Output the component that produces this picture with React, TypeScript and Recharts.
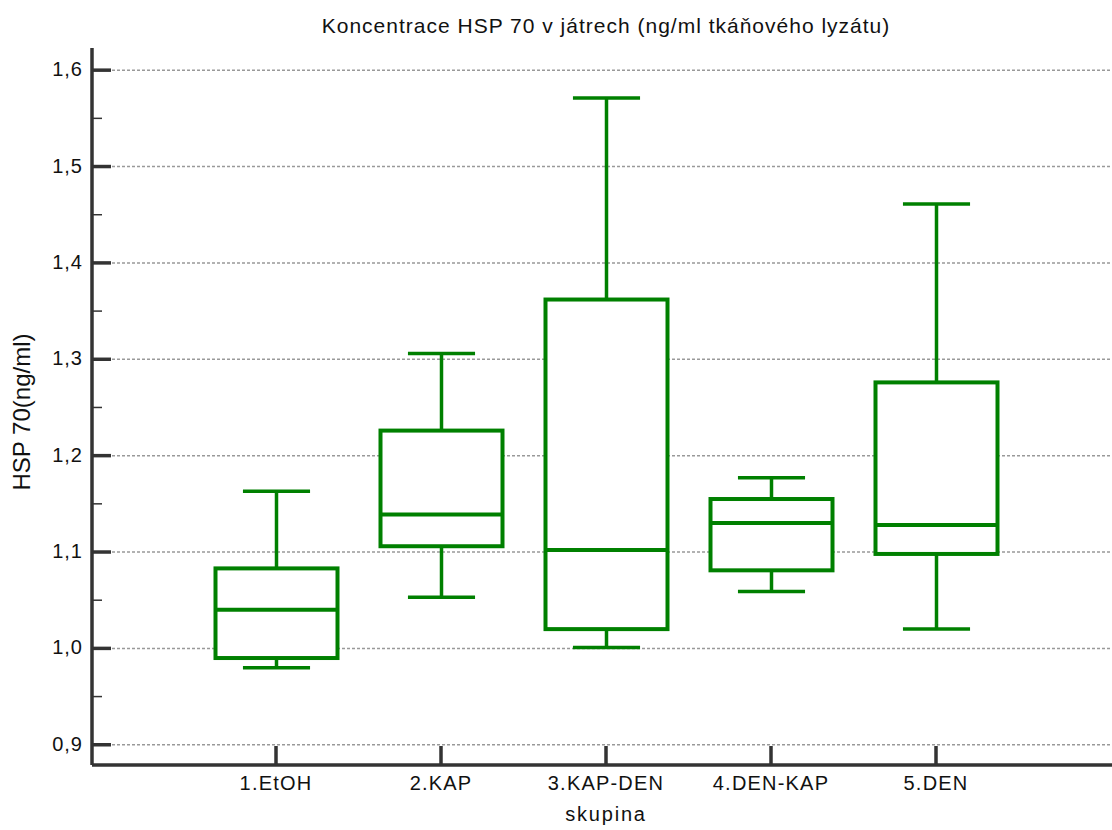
import React from "react"
import { ComposedChart, Bar, XAxis, YAxis, CartesianGrid } from "recharts"

const groups = ["1.EtOH", "2.KAP", "3.KAP-DEN", "4.DEN-KAP", "5.DEN"]
const whiskerLow = [0.98, 1.053, 1.001, 1.059, 1.02]
const q1 = [0.99, 1.106, 1.02, 1.081, 1.098]
const median = [1.04, 1.139, 1.102, 1.13, 1.128]
const q3 = [1.083, 1.226, 1.362, 1.155, 1.276]
const whiskerHigh = [1.163, 1.306, 1.571, 1.177, 1.461]

const majorTicks = [0.9, 1.0, 1.1, 1.2, 1.3, 1.4, 1.5, 1.6]
const minorTicks = [0.95, 1.05, 1.15, 1.25, 1.35, 1.45, 1.55]

const data = groups.map((group, i) => ({
  group,
  range: [whiskerLow[i], whiskerHigh[i]],
  q1: q1[i],
  median: median[i],
  q3: q3[i],
}))

const GREEN = "#008000"
const AXIS = "#333"
const FONT = "'Liberation Sans', Arial, sans-serif"

function BoxShape(props: any) {
  const { x, y, width, height, payload } = props
  const top = Math.min(y, y + height)
  const bottom = Math.max(y, y + height)
  const [lo, hi] = payload.range
  const py = (v: number) => top + ((hi - v) / (hi - lo)) * (bottom - top)
  const cx = x + width / 2
  const cap = width * 0.55
  const yQ1 = py(payload.q1)
  const yQ3 = py(payload.q3)
  const yMed = py(payload.median)
  return (
    <g>
      <line x1={cx} x2={cx} y1={top} y2={yQ3} stroke={GREEN} strokeWidth={3.5} />
      <line x1={cx} x2={cx} y1={yQ1} y2={bottom} stroke={GREEN} strokeWidth={3.5} />
      <line x1={cx - cap / 2} x2={cx + cap / 2} y1={top} y2={top} stroke={GREEN} strokeWidth={3.5} />
      <line x1={cx - cap / 2} x2={cx + cap / 2} y1={bottom} y2={bottom} stroke={GREEN} strokeWidth={3.5} />
      <rect x={x} y={yQ3} width={width} height={yQ1 - yQ3} fill="#fff" stroke={GREEN} strokeWidth={4} />
      <line x1={x} x2={x + width} y1={yMed} y2={yMed} stroke={GREEN} strokeWidth={4} />
    </g>
  )
}

// grid only on the major ticks (they come first in the ticks list)
function GridLine(props: any) {
  const { x1, x2, y1, y2, index } = props
  if (index >= majorTicks.length) return <g key={props.key} />
  return <line key={props.key} x1={x1} x2={x2} y1={y1} y2={y2} stroke="#999" strokeWidth={1.5} strokeDasharray="3 2" />
}

function YTick(props: any) {
  const { x, y, payload } = props
  const major = majorTicks.includes(payload.value)
  return (
    <g>
      <line x1={x} x2={x + (major ? 19 : 10)} y1={y} y2={y} stroke={AXIS} strokeWidth={major ? 3.5 : 1.5} />
      {major && (
        <text x={x - 9} y={y + 6} textAnchor="end" fontSize={20} letterSpacing={1} fill="#111" fontFamily={FONT}>
          {payload.value.toFixed(1).replace(".", ",")}
        </text>
      )}
    </g>
  )
}

function XTick(props: any) {
  const { x, y, payload } = props
  return (
    <g>
      <line x1={x} x2={x} y1={y} y2={y - 19} stroke={AXIS} strokeWidth={3.5} />
      <text x={x} y={y + 25} textAnchor="middle" fontSize={20} letterSpacing={1.2} fill="#111" fontFamily={FONT}>
        {payload.value}
      </text>
    </g>
  )
}

export default function App() {
  return (
    <div style={{ position: "relative", width: 1112, height: 830, fontFamily: FONT }}>
      <style>{"body{margin:0}"}</style>
      <div
        style={{
          position: "absolute",
          left: 0,
          width: 1212,
          top: 14,
          textAlign: "center",
          fontSize: 21,
          letterSpacing: 1,
          color: "#111",
        }}
      >
        Koncentrace HSP 70 v játrech (ng/ml tkáňového lyzátu)
      </div>
      <div
        style={{
          position: "absolute",
          left: 0,
          width: 1212,
          top: 803,
          textAlign: "center",
          fontSize: 20,
          letterSpacing: 1.8,
          color: "#111",
        }}
      >
        skupina
      </div>
      <div
        style={{
          position: "absolute",
          left: 22,
          top: 412,
          transform: "translate(-50%, -50%) rotate(-90deg)",
          fontSize: 24,
          whiteSpace: "nowrap",
          color: "#111",
        }}
      >
        HSP 70(ng/ml)
      </div>
      <ComposedChart width={1112} height={830} data={data} margin={{ top: 48, right: 0, bottom: 0, left: 0 }}>
        <CartesianGrid vertical={false} horizontal={(p: any) => <GridLine {...p} />} />
        <XAxis
          dataKey="group"
          height={65}
          padding={{ left: 101.5, right: 93.5 }}
          axisLine={{ stroke: AXIS, strokeWidth: 3.5 }}
          tickLine={false}
          tickSize={0}
          tickMargin={0}
          interval={0}
          tick={<XTick />}
        />
        <YAxis
          type="number"
          width={92}
          domain={[0.879, 1.623]}
          ticks={[...majorTicks, ...minorTicks]}
          interval={0}
          allowDataOverflow
          axisLine={{ stroke: AXIS, strokeWidth: 3.5 }}
          tickLine={false}
          tickSize={0}
          tickMargin={0}
          tick={<YTick />}
        />
        <Bar dataKey="range" barSize={122} shape={<BoxShape />} isAnimationActive={false} />
      </ComposedChart>
    </div>
  )
}
